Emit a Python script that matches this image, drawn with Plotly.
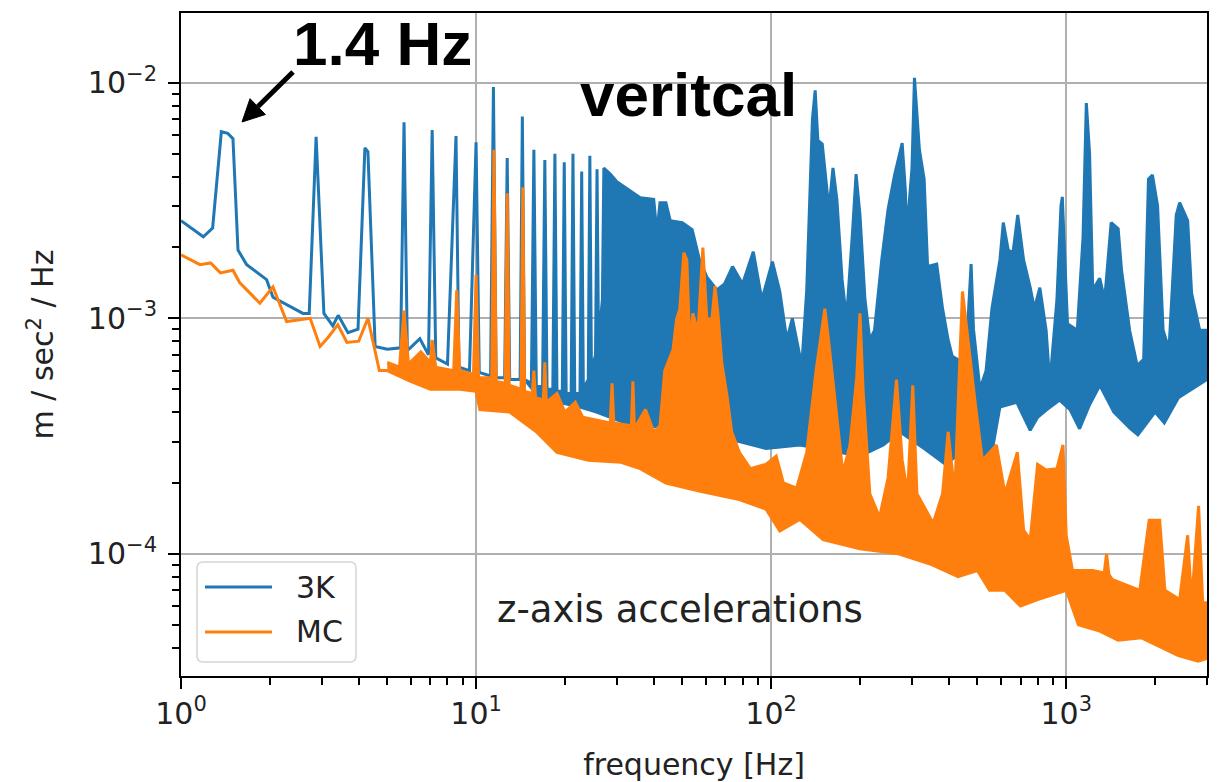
import math
import plotly.graph_objects as go

# ---------------- data ----------------
# 3K sensor: low-frequency single line (Hz, m/s^2/Hz)
f_3k_line = [1.0, 1.19, 1.28, 1.37, 1.44, 1.50, 1.56, 1.67, 1.95, 2.05, 2.59, 2.72, 2.87, 3.05,
             3.27, 3.41, 3.68, 3.98, 4.20, 4.30, 4.55, 5.0, 5.55, 5.70, 5.85, 6.45, 6.9, 7.1, 7.3,
             8.0, 8.55, 8.75, 9.5, 10.0, 10.25, 11.2, 11.45, 11.7, 12.5, 12.75, 13.0, 14.1, 14.35, 14.6]
a_3k_line = [2.6e-3, 2.22e-3, 2.42e-3, 6.2e-3, 6.1e-3, 5.8e-3, 1.95e-3, 1.69e-3, 1.46e-3, 1.23e-3,
             1.05e-3, 1.05e-3, 5.9e-3, 1.05e-3, 9.3e-4, 1.03e-3, 8.7e-4, 9.0e-4, 5.3e-3, 5.1e-3,
             7.6e-4, 7.4e-4, 7.5e-4, 6.8e-3, 7.3e-4, 8.2e-4, 7.0e-4, 6.3e-3, 6.8e-4, 6.4e-4,
             5.95e-3, 6.2e-4, 6.0e-4, 5.6e-3, 5.9e-4, 5.7e-4, 9.6e-3, 5.6e-4, 5.6e-4, 4.8e-3,
             5.5e-4, 5.5e-4, 7.2e-3, 5.5e-4]
# 3K sensor: upper envelope of the dense spectrum
f_3k_top = [14.6, 15.4, 15.7, 16.0, 16.8, 17.1, 17.4, 18.2, 18.5, 18.8, 19.6, 19.9, 20.2, 21.0, 21.3,
            21.6, 22.5, 22.8, 23.1, 24.0, 24.3, 24.6, 25.4, 25.7, 26.0, 26.8, 27.1, 28.5, 30, 32, 34,
            36, 40, 41, 42, 44, 45.5, 50, 54, 57, 60.5, 65.5, 69.5, 74, 80, 87, 93, 101, 107, 113,
            118, 127, 132, 138, 141, 144, 149, 154, 157, 162, 167, 174, 180, 189, 194, 200, 208, 216,
            224, 237, 249, 262, 278, 285, 288, 300, 306, 318, 330, 339, 364, 381, 398, 411, 428, 445,
            463, 476, 485, 510, 535, 560, 596, 612, 636, 660, 685, 717, 755, 780, 814, 855, 880, 930,
            960, 970, 990, 1010, 1090, 1140, 1170, 1200, 1230, 1299, 1350, 1420, 1500, 1540, 1640,
            1740, 1830, 1900, 1960, 2040, 2130, 2230, 2360, 2424, 2580, 2660, 2834, 3000]
a_3k_top = [5.5e-4, 5.3e-4, 5.2e-3, 5.2e-4, 5.1e-4, 4.7e-3, 5.0e-4, 5.0e-4, 5.0e-3, 4.9e-4, 4.9e-4,
            4.6e-3, 4.8e-4, 4.8e-4, 5.0e-3, 4.8e-4, 4.8e-4, 4.2e-3, 5.0e-4, 5.5e-4, 4.9e-3, 6.0e-4,
            7.0e-4, 4.3e-3, 8.0e-4, 1.2e-3, 4.35e-3, 4.1e-3, 3.8e-3, 3.6e-3, 3.4e-3, 3.25e-3, 3.2e-3,
            2.3e-3, 3.1e-3, 3.1e-3, 2.6e-3, 2.55e-3, 2.38e-3, 1.8e-3, 1.5e-3, 1.32e-3, 1.4e-3, 1.66e-3,
            1.4e-3, 1.92e-3, 1.2e-3, 1.74e-3, 1.3e-3, 8.1e-4, 1.0e-3, 6.3e-4, 1.32e-3, 7.0e-3, 9.3e-3,
            5.7e-3, 5.5e-3, 3.5e-3, 2.9e-3, 4.35e-3, 3.2e-3, 1.46e-3, 9.9e-4, 2.4e-3, 4.1e-3, 2.75e-3,
            1.2e-3, 8.1e-4, 8.9e-4, 1.77e-3, 2.9e-3, 4.06e-3, 5.55e-3, 3.5e-3, 2.3e-3, 4.3e-3, 1.05e-2,
            5.2e-3, 3.9e-3, 1.66e-3, 1.7e-3, 1.1e-3, 8.1e-4, 6.9e-4, 6.7e-4, 5.9e-4, 9.0e-4, 1.7e-3,
            9.0e-4, 5.0e-4, 6.0e-4, 1.1e-3, 1.77e-3, 2.55e-3, 1.95e-3, 1.9e-3, 2.75e-3, 1.77e-3,
            1.35e-3, 1.1e-3, 1.35e-3, 8.9e-4, 5.3e-4, 1.2e-3, 3.0e-3, 3.28e-3, 1.77e-3, 9.5e-4, 8.9e-4,
            2.2e-3, 8.2e-3, 5.0e-3, 1.32e-3, 1.48e-3, 1.2e-3, 2.55e-3, 2.4e-3, 1.6e-3, 8.9e-4, 6.3e-4,
            6.7e-4, 3.9e-3, 4.06e-3, 3.0e-3, 8.9e-4, 7.4e-4, 2.75e-3, 3.1e-3, 2.6e-3, 1.28e-3, 8.9e-4,
            8.9e-4]
# 3K sensor: lower envelope of the dense spectrum
f_3k_bot = [14.6, 16.4, 22.5, 25.6, 36, 42, 50, 67, 78, 96, 110, 125, 146, 200, 240, 273, 330, 390,
            440, 520, 560, 596, 680, 755, 800, 860, 950, 1030, 1110, 1200, 1300, 1450, 1650, 1750,
            2000, 2150, 2400, 2850, 3000]
a_3k_bot = [5.5e-4, 4.6e-4, 4.2e-4, 4.0e-4, 3.4e-4, 3.5e-4, 3.3e-4, 3.1e-4, 3.0e-4, 2.8e-4, 2.85e-4,
            2.9e-4, 2.8e-4, 2.6e-4, 2.9e-4, 3.3e-4, 2.8e-4, 2.4e-4, 2.7e-4, 2.5e-4, 2.7e-4, 4.2e-4,
            4.4e-4, 3.35e-4, 3.8e-4, 4.1e-4, 4.5e-4, 4.1e-4, 3.4e-4, 4.3e-4, 5.2e-4, 4.0e-4, 3.4e-4,
            3.2e-4, 4.0e-4, 3.6e-4, 4.6e-4, 5.3e-4, 5.5e-4]

# MC sensor: low-frequency single line
f_mc_line = [1.0, 1.16, 1.26, 1.36, 1.50, 1.58, 1.85, 2.05, 2.28, 2.74, 2.96, 3.15, 3.40, 3.65,
             4.0, 4.3, 4.7, 5.0]
a_mc_line = [1.86e-3, 1.69e-3, 1.72e-3, 1.56e-3, 1.6e-3, 1.42e-3, 1.16e-3, 1.36e-3, 9.7e-4, 1.0e-3,
             7.6e-4, 8.3e-4, 9.4e-4, 7.9e-4, 8.0e-4, 1.0e-3, 6.0e-4, 6.0e-4]
# MC sensor: upper envelope
f_mc_top = [5.0, 5.5, 5.7, 5.9, 6.5, 7.0, 7.1, 7.3, 8.4, 8.6, 8.8, 9.8, 10.0, 10.2, 11.3, 11.5, 11.7,
            12.55, 12.75, 12.95, 14.2, 14.4, 14.6, 15.5, 15.7, 15.9, 16.9, 17.1, 17.3, 18.8, 20, 21.7,
            23, 26, 28.5, 28.9, 29.3, 33.6, 34, 34.4, 37.5, 40, 42, 43.6, 46.5, 47.8, 49, 50.6, 51.8,
            53, 54.3, 56.5, 58.7, 60.5, 63, 64.5, 66, 68, 71, 73.5, 78, 85, 96, 104, 110, 122, 132,
            142, 152, 157, 167, 175, 185, 195, 200, 205, 216, 233, 249, 266, 278, 290, 302, 312, 354,
            381, 398, 419, 436, 445, 473, 490, 520, 580, 620, 683, 717, 755, 800, 855, 930, 975, 1000,
            1050, 1230, 1345, 1370, 1395, 1430, 1775, 1910, 2074, 2160, 2424, 2580, 2660, 2810, 2900,
            3000]
a_mc_top = [6.5e-4, 6.2e-4, 1.08e-3, 6.4e-4, 7.2e-4, 6.5e-4, 8.1e-4, 6.2e-4, 6.0e-4, 1.32e-3, 6.0e-4,
            5.8e-4, 1.53e-3, 5.6e-4, 5.6e-4, 5.2e-3, 5.4e-4, 5.3e-4, 3.4e-3, 5.2e-4, 5.0e-4, 3.6e-3,
            4.9e-4, 4.8e-4, 6.0e-4, 4.6e-4, 4.5e-4, 6.5e-4, 4.4e-4, 4.8e-4, 4.0e-4, 4.4e-4, 3.8e-4,
            3.7e-4, 3.6e-4, 5.3e-4, 3.6e-4, 3.5e-4, 5.4e-4, 3.4e-4, 4.1e-4, 3.3e-4, 3.5e-4, 6.0e-4,
            7.35e-4, 9.9e-4, 1.09e-3, 1.9e-3, 1.77e-3, 7.6e-4, 1.05e-3, 8.7e-4, 2.0e-3, 1.0e-3, 9.9e-4,
            1.37e-3, 1.05e-3, 6.5e-4, 4.6e-4, 3.3e-4, 2.7e-4, 2.3e-4, 2.4e-4, 2.6e-4, 2.0e-4, 1.9e-4,
            2.7e-4, 6.0e-4, 1.1e-3, 7.8e-4, 3.7e-4, 2.2e-4, 2.9e-4, 5.6e-4, 1.05e-3, 4.9e-4, 1.8e-4,
            1.43e-4, 2.1e-4, 5.5e-4, 2.5e-4, 1.8e-4, 5.2e-4, 1.8e-4, 1.35e-4, 1.8e-4, 3.3e-4, 1.8e-4,
            6.7e-4, 1.3e-3, 6.7e-4, 4.5e-4, 2.5e-4, 2.9e-4, 1.8e-4, 2.7e-4, 1.26e-4, 1.15e-4, 2.4e-4,
            2.27e-4, 2.3e-4, 2.9e-4, 1.2e-4, 8.5e-5, 8.5e-5, 8.3e-5, 1.0e-4, 8.2e-5, 7.8e-5, 7.0e-5,
            1.39e-4, 1.39e-4, 7.0e-5, 6.4e-5, 1.2e-4, 6.2e-5, 1.6e-4, 6.2e-5, 6.2e-5]
# MC sensor: lower envelope
f_mc_bot = [5.0, 6.0, 7.0, 8.8, 10.0, 10.3, 13, 16, 18.8, 24, 31, 36, 44, 57, 78, 96, 107, 125, 150,
            200, 270, 350, 430, 500, 550, 620, 700, 800, 1000, 1100, 1300, 1500, 1800, 2100, 2400,
            2800, 3000]
a_mc_bot = [6.0e-4, 5.4e-4, 5.0e-4, 5.0e-4, 4.9e-4, 4.1e-4, 4.0e-4, 3.3e-4, 2.7e-4, 2.5e-4, 2.45e-4,
            2.3e-4, 2.0e-4, 1.85e-4, 1.7e-4, 1.55e-4, 1.25e-4, 1.4e-4, 1.15e-4, 1.05e-4, 1.0e-4,
            9.0e-5, 8.0e-5, 8.5e-5, 7.0e-5, 7.0e-5, 6.0e-5, 6.4e-5, 7.0e-5, 5.0e-5, 4.7e-5, 4.3e-5,
            4.4e-5, 4.0e-5, 3.7e-5, 3.5e-5, 3.6e-5]

series_names = ["3K", "MC"]
x_tick_vals = [1, 10, 100, 1000]
x_tick_text = ["10<sup>0</sup>", "10<sup>1</sup>", "10<sup>2</sup>", "10<sup>3</sup>"]
y_tick_vals = [1e-4, 1e-3, 1e-2]
y_tick_text = ["10<sup>\u22124</sup>", "10<sup>\u22123</sup>", "10<sup>\u22122</sup>"]

for fa, aa in [(f_3k_line, a_3k_line), (f_3k_top, a_3k_top), (f_3k_bot, a_3k_bot),
               (f_mc_line, a_mc_line), (f_mc_top, a_mc_top), (f_mc_bot, a_mc_bot)]:
    assert len(fa) == len(aa), (len(fa), len(aa))

# ---------------- figure ----------------
BLUE = "#1f77b4"
ORANGE = "#ff7f0e"
LW = 3
W, H = 1220, 782
ML, MR, MT, MB = 181, 13, 13, 106
PW, PH = W - ML - MR, H - MT - MB


def px(x):  # pixel -> paper x
    return (x - ML) / PW


def py(y):  # pixel -> paper y
    return (H - MB - y) / PH


fig = go.Figure()


def add_series(name, color, f_line, a_line, f_top, a_top, f_bot, a_bot):
    fig.add_trace(go.Scatter(x=f_line, y=a_line, mode="lines", name=name, legendgroup=name,
                             line=dict(color=color, width=LW)))
    fig.add_trace(go.Scatter(x=f_top, y=a_top, mode="lines", name=name, legendgroup=name,
                             showlegend=False, line=dict(color=color, width=LW)))
    fig.add_trace(go.Scatter(x=f_bot, y=a_bot, mode="lines", name=name, legendgroup=name,
                             showlegend=False, line=dict(color=color, width=LW),
                             fill="tonexty", fillcolor=color))


add_series(series_names[0], BLUE, f_3k_line, a_3k_line, f_3k_top, a_3k_top, f_3k_bot, a_3k_bot)
add_series(series_names[1], ORANGE, f_mc_line, a_mc_line, f_mc_top, a_mc_top, f_mc_bot, a_mc_bot)

x_minor = [m * 10 ** d for d in range(0, 4) for m in range(2, 10)]
y_minor = [m * 10 ** d for d in range(-5, -1) for m in range(2, 10)]

TXT = "#222222"
axis_common = dict(
    type="log", showline=True, linecolor="black", linewidth=2, mirror=True,
    ticks="outside", ticklen=11, tickwidth=2.2, tickcolor="black",
    showgrid=True, gridcolor="#b0b0b0", gridwidth=1.6, zeroline=False,
    automargin=False,
    tickfont=dict(family="DejaVu Sans", size=30, color=TXT),
)
minor_common = dict(tickmode="array", ticks="outside", ticklen=7, tickwidth=1.6,
                    tickcolor="black", showgrid=False)

# legend drawn as a matplotlib-style box (rounded corners)
lx0, lx1, ly0, ly1, r = 197, 356, 562, 662, 6
legend_path = (
    f"M{px(lx0 + r)},{py(ly0)} L{px(lx1 - r)},{py(ly0)} Q{px(lx1)},{py(ly0)} {px(lx1)},{py(ly0 + r)} "
    f"L{px(lx1)},{py(ly1 - r)} Q{px(lx1)},{py(ly1)} {px(lx1 - r)},{py(ly1)} "
    f"L{px(lx0 + r)},{py(ly1)} Q{px(lx0)},{py(ly1)} {px(lx0)},{py(ly1 - r)} "
    f"L{px(lx0)},{py(ly0 + r)} Q{px(lx0)},{py(ly0)} {px(lx0 + r)},{py(ly0)} Z"
)
shapes = [
    dict(type="path", path=legend_path, xref="paper", yref="paper", layer="above",
         line=dict(color="#d5d5d5", width=1.5), fillcolor="rgba(255,255,255,0.85)"),
    dict(type="line", xref="paper", yref="paper", x0=px(205), x1=px(272), y0=py(587), y1=py(587),
         layer="above", line=dict(color=BLUE, width=LW)),
    dict(type="line", xref="paper", yref="paper", x0=px(205), x1=px(272), y0=py(632), y1=py(632),
         layer="above", line=dict(color=ORANGE, width=LW)),
    # arrow pointing at the 1.4 Hz peak
    dict(type="line", xref="paper", yref="paper", x0=px(293), y0=py(72), x1=px(258), y1=py(106.5),
         layer="above", line=dict(color="black", width=5)),
    dict(type="path", xref="paper", yref="paper", layer="above",
         path=f"M{px(242)},{py(122)} L{px(265.4)},{py(114.5)} L{px(250.0)},{py(98.7)} Z",
         line=dict(color="black", width=1), fillcolor="black"),
]

annotations = [
    dict(text="<b>1.4 Hz</b>", xref="paper", yref="paper", x=px(382), y=py(44),
         xanchor="center", yanchor="middle", showarrow=False,
         font=dict(family="Liberation Sans", size=62, color="black")),
    dict(text="<b>veritcal</b>", xref="paper", yref="paper", x=px(688), y=py(94),
         xanchor="center", yanchor="middle", showarrow=False,
         font=dict(family="Liberation Sans", size=62, color="black")),
    dict(text="z-axis accelerations", xref="paper", yref="paper", x=px(680), y=py(609),
         xanchor="center", yanchor="middle", showarrow=False,
         font=dict(family="DejaVu Sans", size=37, color=TXT)),
    dict(text=series_names[0], xref="paper", yref="paper", x=px(294), y=py(587),
         xanchor="left", yanchor="middle", showarrow=False,
         font=dict(family="DejaVu Sans", size=30, color=TXT)),
    dict(text=series_names[1], xref="paper", yref="paper", x=px(294), y=py(631),
         xanchor="left", yanchor="middle", showarrow=False,
         font=dict(family="DejaVu Sans", size=30, color=TXT)),
]

fig.update_layout(
    width=W, height=H,
    margin=dict(l=ML, r=MR, t=MT, b=MB, autoexpand=False),
    paper_bgcolor="white", plot_bgcolor="white",
    font=dict(family="DejaVu Sans", size=30, color=TXT),
    showlegend=False,
    xaxis=dict(axis_common, range=[0, math.log10(3000)], tickmode="array",
               tickvals=x_tick_vals, ticktext=x_tick_text, ticklabelstandoff=-1,
               minor=dict(minor_common, tickvals=x_minor),
               title=dict(text="frequency [Hz]", standoff=24,
                          font=dict(family="DejaVu Sans", size=30, color=TXT))),
    yaxis=dict(axis_common, range=[math.log10(3.03e-5), math.log10(1.98e-2)], tickmode="array",
               tickvals=y_tick_vals, ticktext=y_tick_text, ticklabelstandoff=5,
               minor=dict(minor_common, tickvals=y_minor),
               title=dict(text="m / sec<sup>2</sup> / Hz", standoff=25,
                          font=dict(family="DejaVu Sans", size=30, color=TXT))),
    shapes=shapes,
    annotations=annotations,
)

fig.write_html("out.html", config={"displayModeBar": False},
               post_script="document.body.style.margin='0px';")
